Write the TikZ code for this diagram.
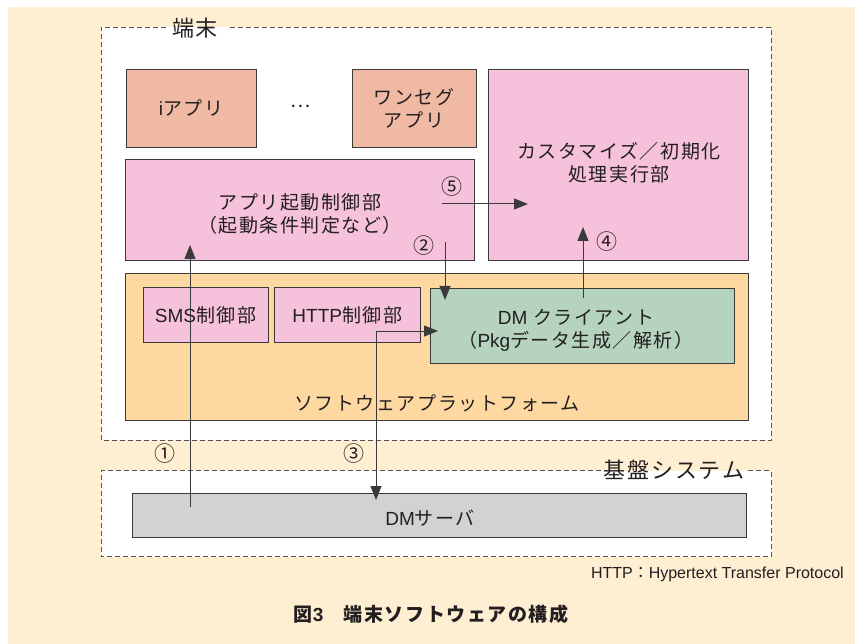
\documentclass[tikz,border=0pt]{standalone}
\usepackage{fontspec}
\setmainfont{Noto Sans CJK JP}[LetterSpace=8]
\newfontfamily\lat{Liberation Sans}
\newfontfamily\numfont{Noto Sans CJK JP}
\usetikzlibrary{arrows.meta}
\definecolor{cream}{HTML}{FEEED2}
\definecolor{salmon}{HTML}{F0B9A4}
\definecolor{pinkb}{HTML}{F6C1DA}
\definecolor{orangeb}{HTML}{FDD8A0}
\definecolor{greenb}{HTML}{B5D3BE}
\definecolor{grayb}{HTML}{D1D2D4}
\definecolor{ink}{HTML}{231F20}
\definecolor{edge}{HTML}{3A3A3A}
\definecolor{dashc}{HTML}{555555}
\tikzset{
  boxn/.style={draw=edge, line width=1pt, inner sep=0pt, text=ink,
    font=\fontsize{19}{23}\selectfont, align=center},
  txt/.style={inner sep=0pt, text=ink, font=\fontsize{19}{23}\selectfont, align=center},
  bigtxt/.style={inner sep=0pt, text=ink, font=\fontsize{22}{26}\selectfont},
  numtxt/.style={inner sep=0pt, text=ink, font=\numfont\fontsize{21}{23}\selectfont},
  dashline/.style={draw=dashc, line width=0.9pt, dash pattern=on 5pt off 3pt},
  arr/.style={draw=edge, line width=1pt, -{Triangle[length=14pt,width=11pt]}},
  arrboth/.style={draw=edge, line width=1pt, {Triangle[length=14pt,width=11pt]}-{Triangle[length=14pt,width=11pt]}}
}
\begin{document}
\begin{tikzpicture}[x=1pt,y=-1pt]
\useasboundingbox (0,0) rectangle (859,644);
% background
\fill[cream] (8,7) rectangle (855,644);
% outer containers
\fill[white] (101,27.5) rectangle (771,440);
\draw[dashline] (166,27.5) -- (101,27.5) -- (101,440) -- (771,440) -- (771,27.5) -- (230,27.5);
\node[bigtxt] (tanmatsu) at (195,28) {端末};
\fill[white] (101,470.7) rectangle (771,556.7);
\draw[dashline] (601,470.7) -- (101,470.7) -- (101,556.7) -- (771,556.7) -- (771,470.7) -- (746,470.7);
\node[bigtxt] (kiban) at (674,470) {基盤システム};
% apps
\node[boxn, fill=salmon, minimum width=130pt, minimum height=77.7pt] (iapp) at (191,108.2) {{\lat i}アプリ};
\node[txt] (dots) at (301,106) {…};
\node[boxn, fill=salmon, minimum width=124pt, minimum height=77.7pt] (oneseg) at (414,108.2) {ワンセグ\\アプリ};
% custom box
\node[boxn, fill=pinkb, minimum width=260.2pt, minimum height=191.4pt] (custom) at (618.6,165) {};
\node[txt] (customt) at (619,162.5) {カスタマイズ／初期化\\処理実行部};
% launch box
\node[boxn, fill=pinkb, minimum width=348.8pt, minimum height=101.4pt] (launch) at (300.1,210) {};
\node[txt] (launcht) at (300,214) {アプリ起動制御部\\（起動条件判定など）};
% platform
\node[boxn, fill=orangeb, minimum width=623pt, minimum height=146pt] (plat) at (436.5,347) {};
\node[txt] (platt) at (437,403) {ソフトウェアプラットフォーム};
\node[boxn, fill=pinkb, minimum width=125pt, minimum height=55pt] (sms) at (205.5,314.8) {{\lat SMS}制御部};
\node[boxn, fill=pinkb, minimum width=146.6pt, minimum height=55pt] (http) at (347.3,314.8) {{\lat HTTP}制御部};
\node[boxn, fill=greenb, minimum width=304pt, minimum height=75pt] (dmc) at (582,325.8) {};
\node[txt] (dmct) at (576,330) {{\lat DM} クライアント\\（{\lat Pkg}データ生成／解析）};
% server
\node[boxn, fill=grayb, minimum width=614pt, minimum height=44pt] (dms) at (439,515.7) {};
\node[txt] (dmst) at (430,518) {{\lat DM}サーバ};
% arrow end points
\coordinate (a1s) at (190,507);
\coordinate (a1e) at (190,245);
\coordinate (a2s) at (445,242);
\coordinate (a2e) at (445,300);
\coordinate (a3a) at (438,331);
\coordinate (a3m) at (376,331);
\coordinate (a3b) at (376,500);
\coordinate (a4s) at (583,298);
\coordinate (a4e) at (583,227);
\coordinate (a5s) at (442,204);
\coordinate (a5e) at (528,204);
\draw[arr] (a1s) -- (a1e);
\draw[arr] (a2s) -- (a2e);
\draw[arrboth] (a3a) -- (a3m) -- (a3b);
\draw[arr] (a4s) -- (a4e);
\draw[arr] (a5s) -- (a5e);
% step numbers
\node[numtxt] (n1) at (165,454) {①};
\node[numtxt] (n2) at (424,246) {②};
\node[numtxt] (n3) at (354,454) {③};
\node[numtxt] (n4) at (607,242) {④};
\node[numtxt] (n5) at (452,187) {⑤};
% notes
\node[inner sep=0pt, text=ink, anchor=east, font=\fontsize{16}{18}\selectfont] (note) at (844,574) {{\lat HTTP}：{\lat Hypertext Transfer Protocol}};
\node[inner sep=0pt, text=ink, font=\fontsize{19}{22}\bfseries\selectfont] (caption) at (431,614) {図{\lat\bfseries 3}　端末ソフトウェアの構成};
\end{tikzpicture}
\end{document}
